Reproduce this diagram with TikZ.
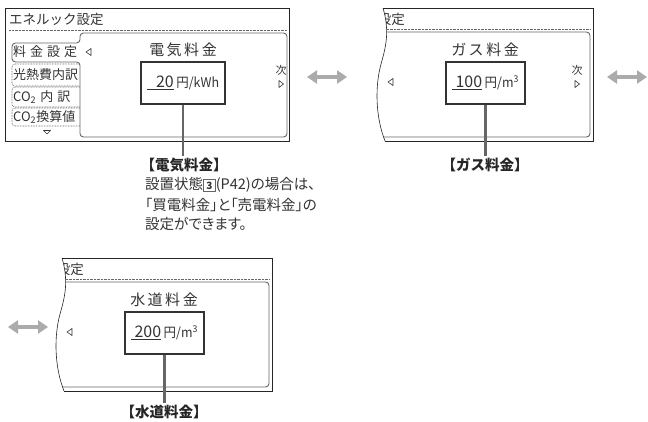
\documentclass[tikz,border=0pt]{standalone}
\usepackage{fontspec}
\usepackage{graphicx}
\setmainfont{Noto Sans CJK JP}
\newfontfamily\propjp[RawFeature=+palt]{Noto Sans CJK JP}
\usetikzlibrary{arrows.meta}
\definecolor{scrtxt}{HTML}{333333}
\newcommand\fieldval[3]{\rlap{\color{black!80}\rule[-3pt]{#1}{1.6pt}}\makebox[#1][r]{\fontsize{16}{16}\selectfont #2}\hspace{2.5pt}{\fontsize{14.5}{14.5}\selectfont\scalebox{0.86}[0.92]{#3}}}
\newcommand\sqnum[1]{{\setlength\fboxsep{0pt}\setlength\fboxrule{0.8pt}\raisebox{0pt}{\fcolorbox{black!60}{white}{\makebox[11pt][c]{\rule[-1.5pt]{0pt}{11.5pt}\fontsize{10}{10}\selectfont\bfseries #1}}}}}
\begin{document}
\begin{tikzpicture}[x=1pt,y=-1pt,
  frame/.style={draw=black!85, line width=1pt},
  panel/.style={draw=black!60, line width=0.9pt, rounded corners=3.5pt},
  dots/.style={draw=black!60, line width=0.6pt, dash pattern=on 0.7pt off 0.7pt},
  menudots/.style={draw=black!60, line width=0.6pt, dash pattern=on 0.8pt off 0.8pt, rounded corners=3pt},
  scr/.style={text=scrtxt, inner sep=0pt},
  ttl/.style={scr, font=\fontsize{13.5}{13.5}\selectfont},
  menu/.style={scr, anchor=west, font=\fontsize{13}{13}\selectfont},
  head/.style={scr, font=\fontsize{15}{15}\selectfont},
  small/.style={scr, font=\fontsize{11}{11}\selectfont},
  valbox/.style={draw=black!80, line width=1.8pt, minimum height=42pt, inner sep=0pt, text=scrtxt},
  conn/.style={draw=black!60, line width=2.6pt},
  swaparrow/.style={draw=black!33, line width=3.8pt, {Triangle[width=13pt,length=10pt]}-{Triangle[width=13pt,length=10pt]}},
  lbl/.style={font=\bfseries\fontsize{14.5}{16}\selectfont, text=black!85, inner sep=2pt},
  desc/.style={font=\propjp\fontsize{14.5}{16}\selectfont, text=black!80, anchor=west, inner sep=0pt},
  tri/.style={draw=scrtxt, line width=0.6pt, line join=round},
  wave/.style={draw=black!85, line width=0.6pt}
]
\useasboundingbox (0,0) rectangle (648,421);

% ---------- screen 1 ----------
\draw[frame] (5,8) rectangle (289,141);
\node[ttl, anchor=west] (t1) at (9,19) {エネルック設定};
\draw[dots] (9,30) -- (287,30);
\draw[panel] (287,33) -- (80,33) -- (80,43) -- (12,43) -- (12,62) -- (80,62) -- (80,137) -- (287,137) -- cycle;
\node[menu] (m1) at (13,52) {料\hspace{4pt}金\hspace{4pt}設\hspace{4pt}定};
\draw[menudots] (80,64) -- (12,64) -- (12,86) -- (80,86);
\node[menu] (m2) at (13,75) {光熱費内訳};
\draw[menudots] (80,87) -- (12,87) -- (12,107) -- (80,107);
\node[menu] (m3) at (13,97) {CO\textsubscript{2}\hspace{4pt}内\hspace{4pt}訳};
\draw[menudots] (80,108) -- (12,108) -- (12,126) -- (80,126);
\node[menu] (m4) at (13,117) {CO\textsubscript{2}換算値};
\draw[tri] (43.5,130.5) -- (50.5,130.5) -- (47,134) -- cycle;
\draw[tri] (91,48.5) -- (86,52) -- (91,55.5) -- cycle;
\node[head] (h1) at (183,50) {電\hspace{2.5pt}気\hspace{2.5pt}料\hspace{2.5pt}金};
\node[valbox, minimum width=84pt] (b1) at (183,83) {\fieldval{27pt}{20}{円/kWh}};
\node[small] (n1) at (281,70) {次};
\draw[tri] (279,80.5) -- (283.5,84) -- (279,87.5) -- cycle;
\node[lbl] (l1) at (184,165) {【電気料金】};
\draw[conn] (b1.south) -- (b1.south |- l1.north);
\node[desc] (d1) at (145,185) {設置状態\sqnum{3}(P42)の場合は、};
\node[desc] (d2) at (145,205) {「買電料金」と「売電料金」の};
\node[desc] (d3) at (145,224) {設定ができます。};

% ---------- swap arrows ----------
\coordinate (a1l) at (307,77);
\coordinate (a1r) at (347,77);
\draw[swaparrow] (a1l) -- (a1r);
\coordinate (a2l) at (607,77);
\coordinate (a2r) at (647,77);
\draw[swaparrow] (a2l) -- (a2r);
\coordinate (a3l) at (8,327);
\coordinate (a3r) at (48,327);
\draw[swaparrow] (a3l) -- (a3r);

% ---------- screen 2 ----------
\begin{scope}
  \clip (383,0) -- (383,8) .. controls (391,35) and (384,52) .. (380,68) .. controls (375,90) and (376,118) .. (385,141) -- (385,150) -- (600,150) -- (600,0) -- cycle;
  \draw[frame] (370,8) rectangle (593,141);
  \node[ttl, anchor=east] (t2) at (405,19) {設定};
  \draw[dots] (370,29) -- (590,29);
  \draw[panel] (370,32) -- (590,32) -- (590,137) -- (370,137);
\end{scope}
\draw[wave] (383,8) .. controls (391,35) and (384,52) .. (380,68) .. controls (375,90) and (376,118) .. (385,141);
\draw[tri] (393,78.5) -- (388,82) -- (393,85.5) -- cycle;
\node[head] (h2) at (485,50) {ガ\hspace{2.5pt}ス\hspace{2.5pt}料\hspace{2.5pt}金};
\node[valbox, minimum width=79pt] (b2) at (485.5,83) {\fieldval{30pt}{100}{円/m\textsuperscript{3}}};
\node[small] (n2) at (577,70) {次};
\draw[tri] (575,80.5) -- (579.5,84) -- (575,87.5) -- cycle;
\node[lbl] (l2) at (485,165) {【ガス料金】};
\draw[conn] (b2.south) -- (b2.south |- l2.north);

% ---------- screen 3 ----------
\begin{scope}[shift={(-321,250)}]
  \begin{scope}
    \clip (383,0) -- (383,8) .. controls (391,35) and (384,52) .. (380,68) .. controls (375,90) and (376,118) .. (385,141) -- (385,150) -- (600,150) -- (600,0) -- cycle;
    \draw[frame] (370,8) rectangle (593,141);
    \node[ttl, anchor=east] (t3) at (405,19) {設定};
    \draw[dots] (370,29) -- (590,29);
    \draw[panel] (370,32) -- (590,32) -- (590,137) -- (370,137);
  \end{scope}
  \draw[wave] (383,8) .. controls (391,35) and (384,52) .. (380,68) .. controls (375,90) and (376,118) .. (385,141);
  \draw[tri] (393,78.5) -- (388,82) -- (393,85.5) -- cycle;
  \node[head] (h3) at (485,50) {水\hspace{2.5pt}道\hspace{2.5pt}料\hspace{2.5pt}金};
  \node[valbox, minimum width=79pt] (b3) at (485.5,83) {\fieldval{30pt}{200}{円/m\textsuperscript{3}}};
  \node[lbl] (l3) at (485,162) {【水道料金】};
  \draw[conn] (b3.south) -- (b3.south |- l3.north);
\end{scope}
\end{tikzpicture}
\end{document}
